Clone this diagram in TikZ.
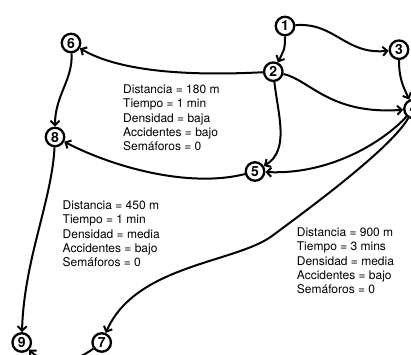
\documentclass[tikz,border=0pt]{standalone}
\usepackage{fontspec}
\setmainfont{TeX Gyre Heros}
\usetikzlibrary{arrows.meta}
\begin{document}
\begin{tikzpicture}[x=1pt,y=-1pt,
  st/.style={circle,draw,line width=2.3pt,minimum size=18.5pt,inner sep=0pt,font=\fontsize{14}{14}\selectfont\bfseries},
  edge/.style={line width=2pt,-{Straight Barb[length=4.5pt,width=9pt]}},
  info/.style={align=left,anchor=north west,inner sep=0pt,font=\fontsize{12}{14.4}\selectfont}]
\useasboundingbox (0,0) rectangle (411,354);
\node[st] (n1) at (285,26) {1};
\node[st] (n2) at (273.3,71.7) {2};
\node[st] (n3) at (399,49.7) {3};
\node[st] (n4) at (413.5,109) {4};
\node[st] (n5) at (255,171.5) {5};
\node[st] (n6) at (71,43) {6};
\node[st] (n7) at (101.7,342.5) {7};
\node[st] (n8) at (55,137) {8};
\node[st] (n9) at (21.7,342.5) {9};

\draw[edge] (n1) .. controls (285,48) .. (n2);
\draw[edge] (n1) .. controls (335,22) and (345,55) .. (n3);
\draw[edge] (n3) .. controls (399,80) and (404,88) .. (n4);
\draw[edge] (n2) .. controls (310,80) and (330,115) .. (n4);
\draw[edge] (n2) .. controls (190,76) and (120,72) .. (n6);
\draw[edge] (n2) .. controls (278,115) and (290,150) .. (n5);
\draw[edge] (n4) .. controls (383,142) and (330,175) .. (n5);
\draw[edge] (n4) .. controls (390,150) and (300,215) .. (272,236)
  .. controls (235,263) and (135,265) .. (n7);
\draw[edge] (n5) .. controls (190,188) and (115,168) .. (n8);
\draw[edge] (n6) .. controls (73,80) and (55,95) .. (n8);
\draw[edge] (n8) .. controls (52,200) and (24,260) .. (n9);
\draw[edge] (n7) .. controls (75,362) and (50,370) .. (n9);

\node[info] (t1) at (123,84.4) {Distancia = 180 m\\Tiempo = 1 min\\Densidad = baja\\Accidentes = bajo\\Semáforos = 0};
\node[info] (t2) at (62.5,200.4) {Distancia = 450 m\\Tiempo = 1 min\\Densidad = media\\Accidentes = bajo\\Semáforos = 0};
\node[info] (t3) at (296.7,227.4) {Distancia = 900 m\\Tiempo = 3 mins\\Densidad = media\\Accidentes = bajo\\Semáforos = 0};
\end{tikzpicture}
\end{document}
